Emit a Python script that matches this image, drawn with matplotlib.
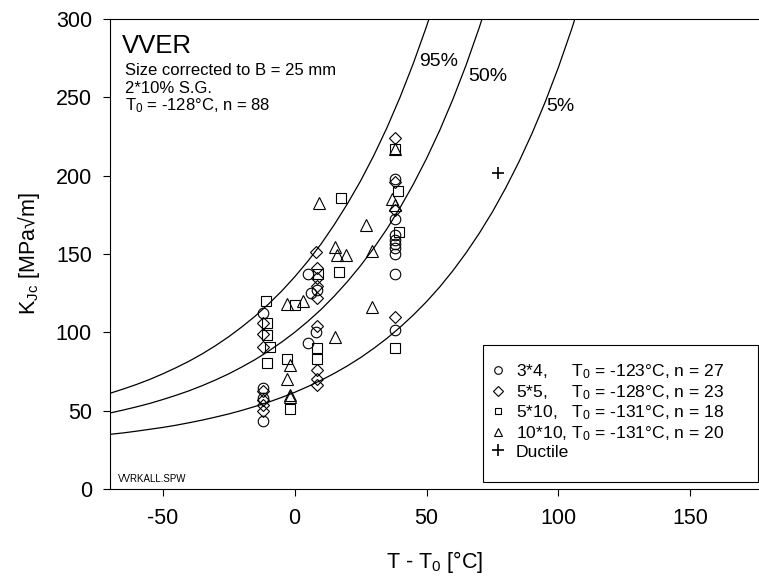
import matplotlib
matplotlib.use("Agg")
import matplotlib.pyplot as plt
from matplotlib.lines import Line2D
from matplotlib.patches import Rectangle

plt.rcParams['font.family'] = ['Liberation Sans', 'DejaVu Sans']
plt.rcParams['mathtext.fontset'] = 'custom'
plt.rcParams['mathtext.rm'] = 'Liberation Sans'
plt.rcParams['mathtext.default'] = 'regular'
plt.rcParams['axes.unicode_minus'] = False

# -----------------------------
# Donnees
# -----------------------------
# 3*4 (cercles)
x_34 = [-11.9, -11.9, -11.9, -11.9, 5.1, 8.4, 6.1, 8.1, 5.1,
        38.1, 38.1, 38.1, 38.1, 38.1, 38.1, 38.1, 38.1, 38.1]
y_34 = [112.5, 64.6, 57.9, 43.3, 137.4, 127.2, 125.1, 100.0, 93.0,
        197.6, 172.5, 162.0, 159.0, 156.4, 153.6, 150.0, 137.2, 101.5]

# 5*5 (losanges)
x_55 = [-11.9, -11.9, -11.9, -11.9, -11.9, -11.9, -11.9,
        8.2, 8.4, 8.4, 8.4, 8.4, 8.4, 8.4, 8.4, 8.4,
        38.1, 38.1, 38.1, 38.1]
y_55 = [105.7, 98.9, 90.8, 62.5, 57.0, 53.5, 50.0,
        151.2, 140.8, 134.6, 129.8, 122.0, 103.8, 76.2, 70.2, 66.3,
        224.0, 196.0, 178.0, 110.0]

# 5*10 (carres)
x_510 = [-10.9, -10.6, -10.4, -9.4, -10.6, 0.0, -3.0, -1.8,
         8.8, 8.4, 8.4, 17.5, 16.9, 38.1, 39.1, 39.4, 38.1]
y_510 = [120.2, 106.1, 98.0, 90.4, 80.2, 117.2, 82.8, 50.9,
         137.2, 90.0, 82.8, 186.0, 138.5, 216.8, 190.4, 164.0, 90.0]

# 10*10 (triangles)
x_1010 = [-3.0, 3.3, -1.8, -2.8, -1.8, -1.6, 9.4,
          15.2, 16.2, 19.4, 27.2, 29.2, 29.2, 15.3,
          38.1, 36.9, 38.1]
y_1010 = [118.0, 119.8, 79.3, 70.4, 59.8, 58.6, 182.3,
          154.6, 149.3, 149.3, 168.3, 152.0, 116.0, 97.0,
          216.8, 185.3, 181.5]

# ductile
x_duct = [77.0]
y_duct = [202.0]

# courbes 5 %, 50 %, 95 %
T_95 = [-70, -65, -60, -55, -50, -45, -40, -35, -30, -25, -20, -15, -10,
        -5, 0, 5, 10, 15, 20, 25, 30, 35, 40, 45, 50, 55]
K_95 = [61.1, 63.8, 66.7, 69.9, 73.5, 77.4, 81.6, 86.3, 91.5, 97.2, 103.5,
        110.3, 117.9, 126.2, 135.4, 145.4, 156.4, 168.7, 182.1, 196.7, 212.9,
        230.7, 250.3, 271.8, 295.4, 321.4]

T_50 = [-70, -65, -60, -55, -50, -45, -40, -35, -30, -25, -20, -15, -10,
        -5, 0, 5, 10, 15, 20, 25, 30, 35, 40, 45, 50, 55, 60, 65, 70, 75]
K_50 = [48.5, 50.4, 52.4, 54.6, 57.1, 59.8, 62.7, 66.0, 69.6, 73.5, 77.9,
        82.6, 87.9, 93.7, 100.0, 107.0, 114.6, 123.1, 132.4, 142.6, 153.8,
        166.1, 179.7, 194.6, 211.0, 229.0, 248.9, 270.7, 294.7, 321.1]

T_05 = [-70, -65, -60, -55, -50, -45, -40, -35, -30, -25, -20, -15, -10,
        -5, 0, 5, 10, 15, 20, 25, 30, 35, 40, 45, 50, 55, 60, 65, 70, 75,
        80, 85, 90, 95, 100, 105, 110]
K_05 = [34.9, 35.8, 36.9, 38.1, 39.3, 40.7, 42.3, 44.0, 45.9, 47.9, 50.2,
        52.7, 55.4, 58.4, 61.7, 65.4, 69.4, 73.8, 78.6, 83.9, 89.8, 96.2,
        103.3, 111.1, 119.6, 129.0, 139.4, 150.8, 163.3, 177.0, 192.2, 208.8,
        227.1, 247.2, 269.3, 293.6, 320.4]

curve_labels = ["95%", "50%", "5%"]
curve_label_x = [54.6, 73.1, 100.7]
curve_label_y = [272.7, 263.0, 244.0]

legend_labels = ["3*4,     T$_0$ = -123°C, n = 27",
                 "5*5,     T$_0$ = -128°C, n = 23",
                 "5*10,   T$_0$ = -131°C, n = 18",
                 "10*10, T$_0$ = -131°C, n = 20",
                 "Ductile"]

x_ticks = [-50, 0, 50, 100, 150]
y_ticks = [0, 50, 100, 150, 200, 250, 300]


def main():
    fig = plt.figure(figsize=(7.59, 5.76), dpi=100)
    ax = fig.add_axes([110 / 759, 87 / 576, 649 / 759, 470 / 576])

    # courbes maitresses
    for T, K in [(T_95, K_95), (T_50, K_50), (T_05, K_05)]:
        ax.plot(T, K, color='k', lw=0.9)

    mk = dict(ls='none', mfc='none', mec='k', mew=0.8)
    ax.plot(x_34, y_34, marker='o', ms=7.6, **mk)
    ax.plot(x_55, y_55, marker='D', ms=6.4, **mk)
    ax.plot(x_510, y_510, marker='s', ms=7.0, **mk)
    ax.plot(x_1010, y_1010, marker='^', ms=8.0, **mk)
    ax.plot(x_duct, y_duct, marker='+', ms=9, ls='none', color='k', mew=1.2)

    for lab, xl, yl in zip(curve_labels, curve_label_x, curve_label_y):
        ax.text(xl, yl, lab, fontsize=14, ha='center', va='center')

    ax.set_xlim(-70, 176)
    ax.set_ylim(0, 300)
    ax.set_xticks(x_ticks)
    ax.set_yticks(y_ticks)
    ax.tick_params(direction='out', length=5, width=0.8, labelsize=15.5, pad=8)
    ax.tick_params(axis='x', pad=9)
    ax.spines['right'].set_visible(False)
    for s in ['left', 'bottom', 'top']:
        ax.spines[s].set_linewidth(0.8)

    ax.set_xlabel("T - T$_0$ [°C]", fontsize=15.5)
    ax.set_ylabel("K$_{Jc}$ [MPa√m]", fontsize=15.5)
    ax.xaxis.set_label_coords(0.5, -0.128)
    ax.yaxis.set_label_coords(-0.105, 0.5)

    # textes
    ax.text(0.018, 0.927, "VVER", transform=ax.transAxes, fontsize=18.5)
    ax.text(0.023, 0.881, "Size corrected to B = 25 mm", transform=ax.transAxes, fontsize=12)
    ax.text(0.023, 0.843, "2*10% S.G.", transform=ax.transAxes, fontsize=12)
    ax.text(0.023, 0.806, "T$_0$ = -128°C, n = 88", transform=ax.transAxes, fontsize=12)
    ax.text(0.012, 0.021, "VVRKALL.SPW", transform=ax.transAxes, fontsize=7, va='center')

    # legende : cadre dessine a part, texte sans cadre
    ax.add_patch(Rectangle((0.5747, 0.0149), 0.4245, 0.2915, transform=ax.transAxes,
                           fill=False, ec='k', lw=0.8, clip_on=False, zorder=4))
    hmk = dict(ls='none', mfc='none', mec='k', mew=0.8)
    handles = [Line2D([], [], marker='o', ms=5.5, **hmk),
               Line2D([], [], marker='D', ms=5, **hmk),
               Line2D([], [], marker='s', ms=5, **hmk),
               Line2D([], [], marker='^', ms=6, **hmk),
               Line2D([], [], marker='+', ms=8, ls='none', color='k', mew=1.2)]
    ax.legend(handles, legend_labels, loc='upper left',
              bbox_to_anchor=(0.585, 0.269), borderaxespad=0, borderpad=0,
              fontsize=12.6, handlelength=1.0, handletextpad=0.5,
              labelspacing=0.1, frameon=False)

    fig.savefig("out.png", dpi=100)


if __name__ == "__main__":
    main()
